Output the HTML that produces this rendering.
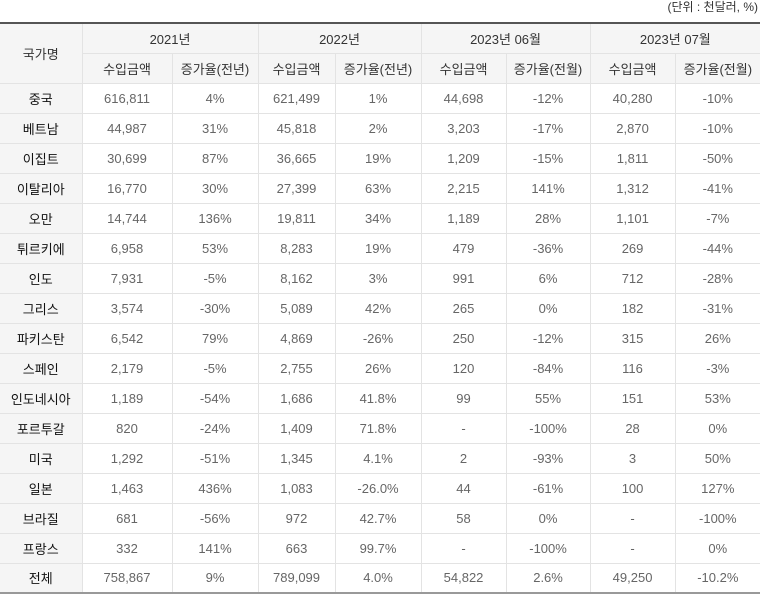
<!DOCTYPE html>
<html><head><meta charset="utf-8"><style>
body{margin:0;width:760px;height:593px;background:#fff;font-family:"Liberation Sans","Noto Sans CJK KR",sans-serif;overflow:hidden;position:relative}
.unit{position:absolute;right:2px;top:-2px;font-size:12px;color:#333}
table{position:absolute;left:0;top:22px;width:760px;border-collapse:collapse;table-layout:fixed;font-size:13px;color:#666}
table{border-top:2px solid #555}
td,th{border:1px solid #e3e3e3;text-align:center;padding:0;font-weight:normal}
th{background:#f5f5f5;color:#333}
tr{height:30px}
td:first-child,th:first-child{border-left:none}
td:last-child,th:last-child{border-right:none}
td.c{background:#f5f5f5;color:#111}
tr.t td{border-top:1px solid #999;border-bottom:2px solid #999}
</style></head><body>
<div class="unit">(단위 : 천달러, %)</div>
<table>
<colgroup><col style="width:82px"><col style="width:90px"><col style="width:86px"><col style="width:77px"><col style="width:86px"><col style="width:85px"><col style="width:84px"><col style="width:85px"><col style="width:85px"></colgroup>
<tr><th rowspan="2">국가명</th><th colspan="2">2021년</th><th colspan="2">2022년</th><th colspan="2">2023년 06월</th><th colspan="2">2023년 07월</th></tr>
<tr><th>수입금액</th><th>증가율(전년)</th><th>수입금액</th><th>증가율(전년)</th><th>수입금액</th><th>증가율(전월)</th><th>수입금액</th><th>증가율(전월)</th></tr>
<tr><td class="c">중국</td><td>616,811</td><td>4%</td><td>621,499</td><td>1%</td><td>44,698</td><td>-12%</td><td>40,280</td><td>-10%</td></tr>
<tr><td class="c">베트남</td><td>44,987</td><td>31%</td><td>45,818</td><td>2%</td><td>3,203</td><td>-17%</td><td>2,870</td><td>-10%</td></tr>
<tr><td class="c">이집트</td><td>30,699</td><td>87%</td><td>36,665</td><td>19%</td><td>1,209</td><td>-15%</td><td>1,811</td><td>-50%</td></tr>
<tr><td class="c">이탈리아</td><td>16,770</td><td>30%</td><td>27,399</td><td>63%</td><td>2,215</td><td>141%</td><td>1,312</td><td>-41%</td></tr>
<tr><td class="c">오만</td><td>14,744</td><td>136%</td><td>19,811</td><td>34%</td><td>1,189</td><td>28%</td><td>1,101</td><td>-7%</td></tr>
<tr><td class="c">튀르키에</td><td>6,958</td><td>53%</td><td>8,283</td><td>19%</td><td>479</td><td>-36%</td><td>269</td><td>-44%</td></tr>
<tr><td class="c">인도</td><td>7,931</td><td>-5%</td><td>8,162</td><td>3%</td><td>991</td><td>6%</td><td>712</td><td>-28%</td></tr>
<tr><td class="c">그리스</td><td>3,574</td><td>-30%</td><td>5,089</td><td>42%</td><td>265</td><td>0%</td><td>182</td><td>-31%</td></tr>
<tr><td class="c">파키스탄</td><td>6,542</td><td>79%</td><td>4,869</td><td>-26%</td><td>250</td><td>-12%</td><td>315</td><td>26%</td></tr>
<tr><td class="c">스페인</td><td>2,179</td><td>-5%</td><td>2,755</td><td>26%</td><td>120</td><td>-84%</td><td>116</td><td>-3%</td></tr>
<tr><td class="c">인도네시아</td><td>1,189</td><td>-54%</td><td>1,686</td><td>41.8%</td><td>99</td><td>55%</td><td>151</td><td>53%</td></tr>
<tr><td class="c">포르투갈</td><td>820</td><td>-24%</td><td>1,409</td><td>71.8%</td><td>-</td><td>-100%</td><td>28</td><td>0%</td></tr>
<tr><td class="c">미국</td><td>1,292</td><td>-51%</td><td>1,345</td><td>4.1%</td><td>2</td><td>-93%</td><td>3</td><td>50%</td></tr>
<tr><td class="c">일본</td><td>1,463</td><td>436%</td><td>1,083</td><td>-26.0%</td><td>44</td><td>-61%</td><td>100</td><td>127%</td></tr>
<tr><td class="c">브라질</td><td>681</td><td>-56%</td><td>972</td><td>42.7%</td><td>58</td><td>0%</td><td>-</td><td>-100%</td></tr>
<tr><td class="c">프랑스</td><td>332</td><td>141%</td><td>663</td><td>99.7%</td><td>-</td><td>-100%</td><td>-</td><td>0%</td></tr>
<tr class="t"><td class="c">전체</td><td>758,867</td><td>9%</td><td>789,099</td><td>4.0%</td><td>54,822</td><td>2.6%</td><td>49,250</td><td>-10.2%</td></tr>
</table>
</body></html>
